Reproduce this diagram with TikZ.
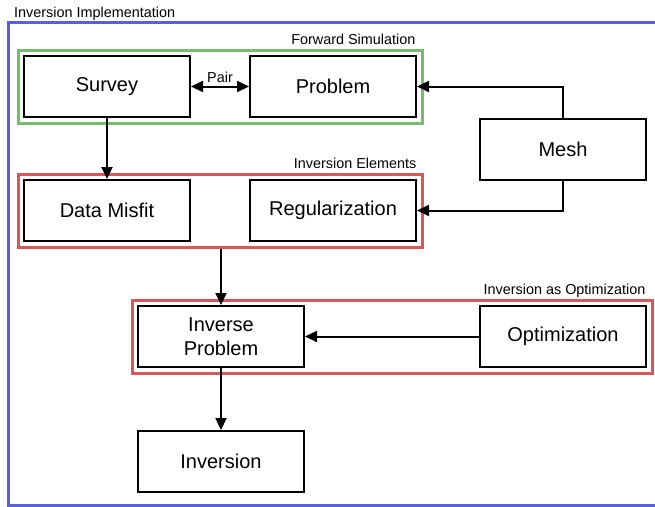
\documentclass[tikz,border=0pt]{standalone}
\usepackage{fontspec}
\setmainfont{Liberation Sans}
\usepackage{xcolor}
\usepackage{tikz}
\usetikzlibrary{arrows.meta, positioning, fit}

\definecolor{implblue}{RGB}{88,98,214}
\definecolor{simgreen}{RGB}{118,188,108}
\definecolor{elemred}{RGB}{214,88,88}

\begin{document}
\begin{tikzpicture}[
    x=1pt, y=-1pt,
    block/.style={
        rectangle,
        draw=black,
        line width=2pt,
        minimum width=166pt,
        minimum height=61pt,
        align=center,
        font=\fontsize{20}{24}\selectfont
    },
    frame/.style={
        rectangle,
        line width=3pt,
        inner sep=5pt
    },
    tag/.style={
        inner sep=0pt,
        font=\fontsize{14.4}{17}\selectfont
    },
    arrow/.style={
        ->,
        >={Triangle[length=12pt,width=11pt]},
        line width=2pt,
        color=black
    }
]
\useasboundingbox (0,0) rectangle (655,506);

% Outer frame
\draw[line width=3pt, implblue] (8,22.5) rectangle (680,505);
\node[tag, anchor=base west] (impl) at (14,17) {Inversion Implementation};

% Nodes
\node[block, anchor=north west] (survey) at (23,55) {Survey};
\node[block, right=58pt of survey] (problem) {Problem};
\node[block, below right=0pt and 62pt of problem.south east] (mesh) {Mesh};
\node[block, below=61pt of survey] (misfit) {Data Misfit};
\node[block, right=58pt of misfit] (reg) {Regularization};
\node[block, anchor=north west] (invprob) at (137,305) {Inverse\\Problem};
\node[block, right=174pt of invprob] (optim) {Optimization};
\node[block, below=62pt of invprob] (inversion) {Inversion};

% Frames
\node[frame, draw=simgreen, fit=(survey)(problem)] (sim) {};
\node[frame, draw=elemred, fit=(misfit)(reg)] (elements) {};
\node[frame, draw=elemred, fit=(invprob)(optim)] (invopt) {};
\node[tag, anchor=base east] at ([xshift=-8pt, yshift=4pt]sim.north east) {Forward Simulation};
\node[tag, anchor=base east] at ([xshift=-7pt, yshift=4pt]elements.north east) {Inversion Elements};
\node[tag, anchor=base east] at ([xshift=-8pt, yshift=4pt]invopt.north east) {Inversion as Optimization};

% Arrows
\draw[arrow, <->] (survey) -- node[above, tag, inner sep=3pt] {Pair} (problem);
\draw[arrow] (mesh.north) |- (problem.east);
\draw[arrow] (mesh.south) |- (reg.east);
\draw[arrow] (survey) -- (misfit);
\draw[arrow] (invprob.north |- elements.south) -- (invprob.north);
\draw[arrow] (optim) -- (invprob);
\draw[arrow] (invprob) -- (inversion);

\end{tikzpicture}
\end{document}
